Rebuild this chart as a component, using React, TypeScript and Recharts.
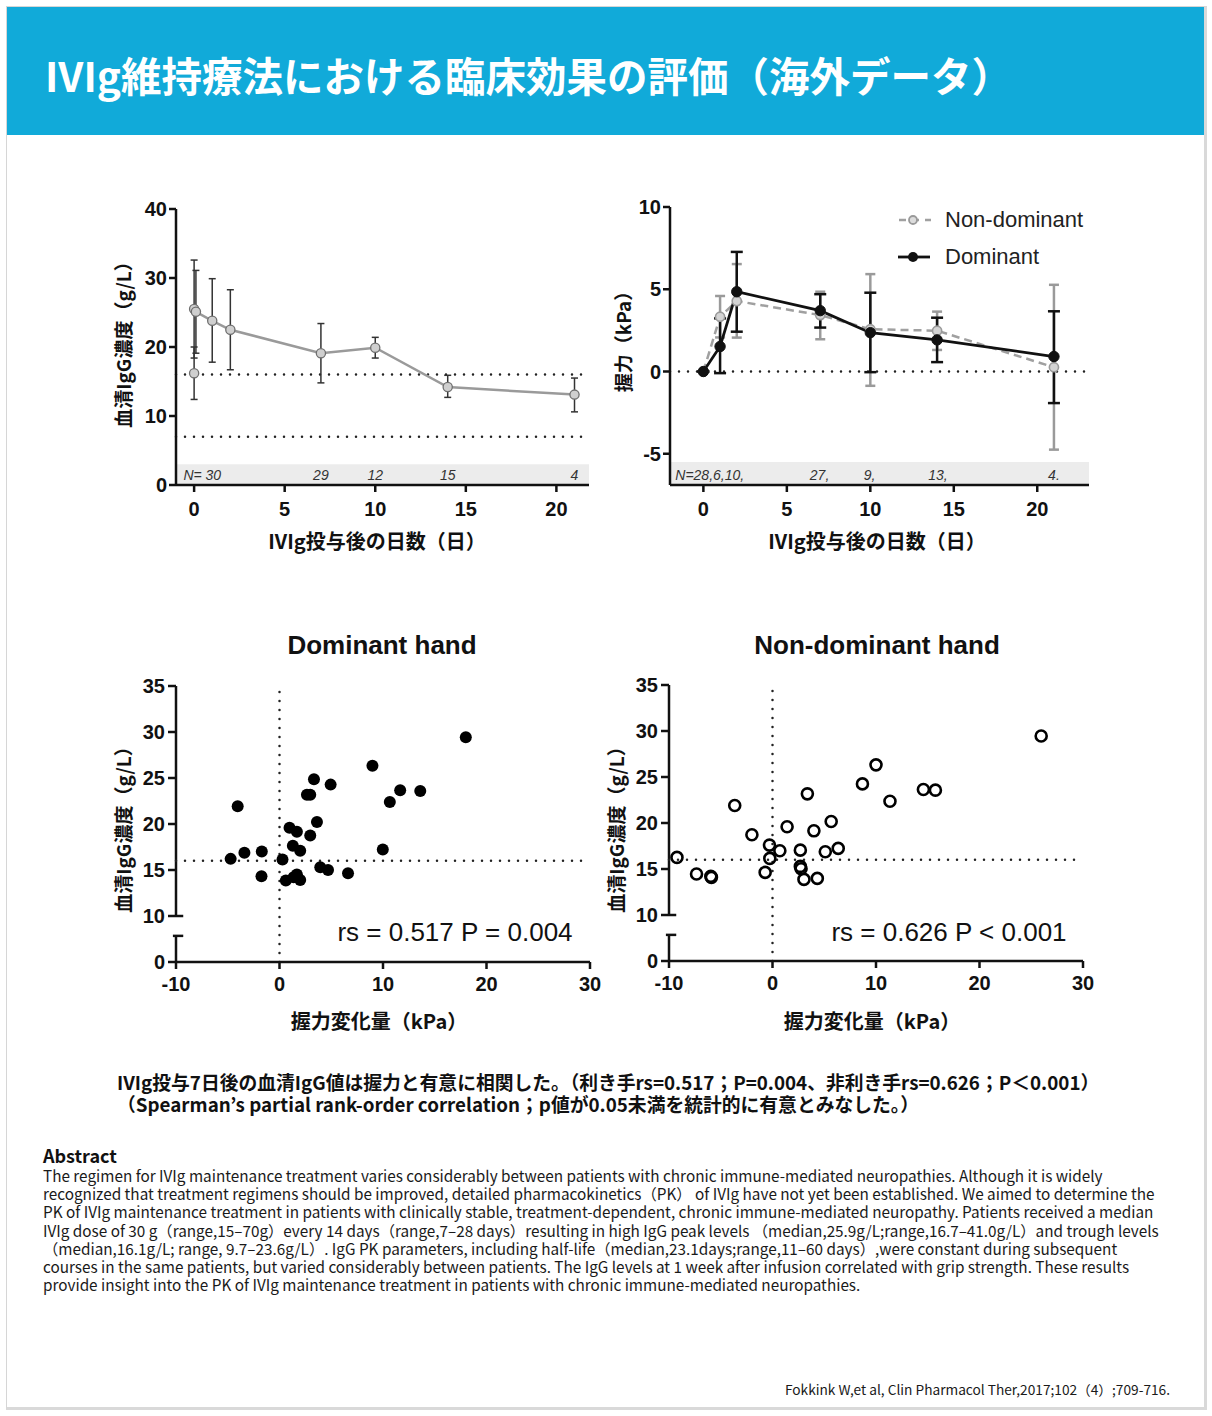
import {
  ComposedChart,
  ScatterChart,
  Line,
  Scatter,
  XAxis,
  YAxis,
  ErrorBar,
  ReferenceLine,
  ReferenceArea,
  ReferenceDot,
  Legend,
} from "recharts";

// serum IgG after infusion (top left)
const igDays = [0, 0.1, 1, 2, 7, 10, 14, 21];
const igMean = [25.5, 25.1, 23.8, 22.5, 19.1, 19.9, 14.2, 13.1];
const igLow = [18.4, 19.1, 17.8, 16.7, 14.8, 18.4, 12.7, 10.6];
const igHigh = [32.6, 31.1, 29.9, 28.3, 23.4, 21.4, 15.9, 15.5];
const preDays = [0];
const preMean = [16.2];
const preLow = [12.4];
const preHigh = [20.0];
const igNDays = [0.45, 7, 10, 14, 21];
const igNLabels = ["N= 30", "29", "12", "15", "4"];

// grip strength change (top right)
const gripDays = [0, 1, 2, 7, 10, 14, 21];
const domMean = [0, 1.52, 4.85, 3.7, 2.36, 1.92, 0.91];
const domLow = [0, -0.1, 2.42, 2.67, -0.04, 0.57, -1.92];
const domHigh = [0, 3.23, 7.27, 4.7, 4.79, 3.27, 3.66];
const nonMean = [0, 3.33, 4.28, 3.43, 2.57, 2.48, 0.26];
const nonLow = [0, 2.07, 2.06, 1.96, -0.87, 1.31, -4.75];
const nonHigh = [0, 4.59, 6.53, 4.85, 5.92, 3.64, 5.27];
const gripNDays = [0.38, 6.96, 9.96, 14.05, 21];
const gripNLabels = ["N=28,6,10,", "27,", "9,", "13,", "4."];
const legendNames = ["Non-dominant", "Dominant"];

// IgG at day 7 vs grip change
const domX = [-4.72, -3.39, -4.04, -1.71, -1.74, 0.29, 0.61, 0.97, 1.68, 1.29, 2.0, 1.36, 1.68, 2.0, 2.65, 2.97, 3.33, 2.97, 3.62, 3.94, 4.69, 4.94, 6.62, 8.98, 9.98, 10.66, 11.66, 13.6, 18.0];
const domY = [16.21, 16.87, 21.92, 17.01, 14.32, 16.14, 13.85, 19.59, 19.16, 17.63, 17.09, 14.22, 14.51, 13.92, 23.19, 23.19, 24.86, 18.76, 20.21, 15.31, 15.01, 24.28, 14.65, 26.32, 17.23, 22.39, 23.66, 23.59, 29.44];
const nonX = [-9.23, -7.34, -5.96, -5.9, -3.65, -1.99, -0.71, -0.29, -0.26, 0.71, 1.41, 2.69, 2.69, 2.76, 3.04, 3.37, 4.0, 4.33, 5.1, 5.67, 6.35, 8.69, 10.0, 11.35, 14.58, 15.74, 25.96];
const nonY = [16.26, 14.45, 14.2, 14.09, 21.9, 18.72, 14.63, 17.6, 16.15, 16.98, 19.59, 17.05, 15.28, 15.03, 13.87, 23.17, 19.15, 13.98, 16.87, 20.17, 17.24, 24.25, 26.32, 22.37, 23.64, 23.57, 29.46];

const abstractLines = [
  "The regimen for IVIg maintenance treatment varies considerably between patients with chronic immune-mediated neuropathies. Although it is widely",
  "recognized that treatment regimens should be improved, detailed pharmacokinetics（PK） of IVIg have not yet been established. We aimed to determine the",
  "PK of IVIg maintenance treatment in patients with clinically stable, treatment-dependent, chronic immune-mediated neuropathy. Patients received a median",
  "IVIg dose of 30 g（range,15–70g）every 14 days（range,7–28 days）resulting in high IgG peak levels （median,25.9g/L;range,16.7–41.0g/L）and trough levels",
  "（median,16.1g/L; range, 9.7–23.6g/L）. IgG PK parameters, including half-life（median,23.1days;range,11–60 days）,were constant during subsequent",
  "courses in the same patients, but varied considerably between patients. The IgG levels at 1 week after infusion correlated with grip strength. These results",
  "provide insight into the PK of IVIg maintenance treatment in patients with chronic immune-mediated neuropathies.",
];

const cjk = "'Noto Sans CJK JP', 'Noto Sans', sans-serif";
const arial = "'Liberation Sans', Arial, sans-serif";
const tickStyle = { fill: "#111", fontSize: 20, fontWeight: 700, fontFamily: arial };
const axisStroke = { stroke: "#111", strokeWidth: 2.5 };
const dotted = { stroke: "#222", strokeWidth: 2.5, strokeDasharray: "0 9", strokeLinecap: "round" as const };

function withErr(xs: number[], mean: number[], low: number[], high: number[]) {
  return xs.map((d, i) => ({ day: d, v: mean[i], err: [mean[i] - low[i], high[i] - mean[i]] }));
}

const nLabel = (text: string) => (props: any) => {
  const vb = props.viewBox || { x: 0, y: 0, width: 0, height: 0 };
  return (
    <text
      x={vb.x + (vb.width || 0) / 2}
      y={vb.y + (vb.height || 0) / 2}
      textAnchor="middle"
      dominantBaseline="central"
      fontSize={14}
      fontStyle="italic"
      fontFamily={arial}
      fill="#333"
    >
      {text}
    </text>
  );
};

function VLabel({ x, y, text, size = 19 }: { x: number; y: number; text: string; size?: number }) {
  return (
    <div
      style={{
        position: "absolute",
        left: x,
        top: y,
        transform: "translate(-50%, -50%) rotate(-90deg)",
        whiteSpace: "nowrap",
        fontWeight: 700,
        fontSize: size,
        lineHeight: 1,
        fontFamily: cjk,
        color: "#111",
      }}
    >
      {text}
    </div>
  );
}

function HLabel({ x, y, text, size = 19, font = cjk, weight = 700 }: { x: number; y: number; text: string; size?: number; font?: string; weight?: number }) {
  return (
    <div
      style={{
        position: "absolute",
        left: x,
        top: y,
        transform: "translate(-50%, -50%)",
        whiteSpace: "nowrap",
        fontWeight: weight,
        fontSize: size,
        lineHeight: 1,
        fontFamily: font,
        color: "#111",
      }}
    >
      {text}
    </div>
  );
}

function IgGCurve() {
  const main = withErr(igDays, igMean, igLow, igHigh);
  const pre = withErr(preDays, preMean, preLow, preHigh);
  const igDot = { r: 4.6, fill: "#cfcfcf", stroke: "#6f6f6f", strokeWidth: 1.3 };
  return (
    <div style={{ position: "absolute", left: 100, top: 190 }}>
      <ComposedChart width={510} height={330} margin={{ top: 19, right: 21, left: 0, bottom: 0 }}>
        <XAxis
          type="number"
          dataKey="day"
          domain={[-1, 21.8]}
          ticks={[0, 5, 10, 15, 20]}
          allowDataOverflow
          height={35}
          tick={tickStyle}
          tickSize={7}
          tickMargin={10}
          axisLine={axisStroke}
          tickLine={axisStroke}
        />
        <YAxis
          type="number"
          domain={[0, 40]}
          ticks={[0, 10, 20, 30, 40]}
          allowDataOverflow
          width={76}
          tick={tickStyle}
          tickSize={7}
          tickMargin={2}
          axisLine={axisStroke}
          tickLine={axisStroke}
        />
        <ReferenceArea y1={0} y2={3} fill="#ececec" fillOpacity={1} stroke="none" />
        <ReferenceLine y={16} {...dotted} />
        <ReferenceLine y={7} {...dotted} />
        {igNDays.map((d, i) => (
          <ReferenceDot key={i} x={d} y={1.4} r={0} stroke="none" fill="none" label={nLabel(igNLabels[i])} />
        ))}
        <Line data={pre} dataKey="v" stroke="none" dot={igDot} isAnimationActive={false}>
          <ErrorBar dataKey="err" direction="y" width={3.5} stroke="#333" strokeWidth={1.5} />
        </Line>
        <Line data={main} dataKey="v" stroke="#9a9a9a" strokeWidth={2.5} dot={igDot} isAnimationActive={false}>
          <ErrorBar dataKey="err" direction="y" width={3.5} stroke="#333" strokeWidth={1.5} />
        </Line>
      </ComposedChart>
    </div>
  );
}

function GripLegend() {
  return (
    <div style={{ fontFamily: arial, fontSize: 22, color: "#222" }}>
      {legendNames.map((name, i) => (
        <div key={name} style={{ display: "flex", alignItems: "center", height: 37 }}>
          <svg width={47} height={20}>
            {i === 0 ? (
              <>
                <line x1={1} y1={10} x2={33} y2={10} stroke="#a0a0a0" strokeWidth={2.5} strokeDasharray="7 6" />
                <circle cx={15} cy={10} r={4} fill="#dcdcdc" stroke="#9a9a9a" strokeWidth={1.8} />
              </>
            ) : (
              <>
                <line x1={0} y1={10} x2={32} y2={10} stroke="#111" strokeWidth={2.8} />
                <circle cx={15} cy={10} r={5} fill="#111" />
              </>
            )}
          </svg>
          <span style={{ lineHeight: 1 }}>{name}</span>
        </div>
      ))}
    </div>
  );
}

function GripCurve() {
  const dom = withErr(gripDays, domMean, domLow, domHigh);
  const non = withErr(gripDays, nonMean, nonLow, nonHigh);
  return (
    <div style={{ position: "absolute", left: 590, top: 188 }}>
      <ComposedChart width={520} height={332} margin={{ top: 19, right: 21, left: 0, bottom: 0 }}>
        <XAxis
          type="number"
          dataKey="day"
          domain={[-2, 23.1]}
          ticks={[0, 5, 10, 15, 20]}
          allowDataOverflow
          height={35}
          tick={tickStyle}
          tickSize={7}
          tickMargin={10}
          axisLine={axisStroke}
          tickLine={axisStroke}
        />
        <YAxis
          type="number"
          domain={[-6.9, 10]}
          ticks={[-5, 0, 5, 10]}
          allowDataOverflow
          width={80}
          tick={tickStyle}
          tickSize={7}
          tickMargin={2}
          axisLine={axisStroke}
          tickLine={axisStroke}
        />
        <ReferenceArea y1={-6.9} y2={-5.5} fill="#ececec" fillOpacity={1} stroke="none" />
        <ReferenceLine y={0} {...dotted} />
        {gripNDays.map((d, i) => (
          <ReferenceDot key={i} x={d} y={-6.3} r={0} stroke="none" fill="none" label={nLabel(gripNLabels[i])} />
        ))}
        <Legend
          layout="vertical"
          align="center"
          verticalAlign="middle"
          content={<GripLegend />}
          wrapperStyle={{ left: 308, top: 13, width: 210 }}
        />
        <Line
          data={non}
          dataKey="v"
          name={legendNames[0]}
          stroke="#a0a0a0"
          strokeWidth={2.5}
          strokeDasharray="8 5"
          dot={{ r: 4.6, fill: "#d4d4d4", stroke: "#9a9a9a", strokeWidth: 1.6, strokeDasharray: "" }}
          isAnimationActive={false}
        >
          <ErrorBar dataKey="err" direction="y" width={5} stroke="#9a9a9a" strokeWidth={2.5} />
        </Line>
        <Line
          data={dom}
          dataKey="v"
          name={legendNames[1]}
          stroke="#111"
          strokeWidth={2.8}
          dot={{ r: 5.2, fill: "#111", stroke: "#111", strokeWidth: 1 }}
          isAnimationActive={false}
        >
          <ErrorBar dataKey="err" direction="y" width={6} stroke="#111" strokeWidth={2.5} />
        </Line>
      </ComposedChart>
    </div>
  );
}

const filledDot = (p: any) => <circle cx={p.cx} cy={p.cy} r={6} fill="#000" />;
const hollowDot = (p: any) => <circle cx={p.cx} cy={p.cy} r={5.5} fill="none" stroke="#000" strokeWidth={2.6} />;

function Correlation({ left, top, xs, ys, shape }: { left: number; top: number; xs: number[]; ys: number[]; shape: (p: any) => any }) {
  const pts = xs.map((x, i) => ({ x, y: ys[i] }));
  return (
    <div style={{ position: "absolute", left, top }}>
      <ScatterChart width={511} height={330} margin={{ top: 19, right: 21, left: 0, bottom: 0 }}>
        <XAxis
          type="number"
          dataKey="x"
          domain={[-10, 30]}
          ticks={[-10, 0, 10, 20, 30]}
          allowDataOverflow
          height={35}
          tick={tickStyle}
          tickSize={7}
          tickMargin={8}
          axisLine={axisStroke}
          tickLine={axisStroke}
        />
        {/* broken axis: the "0" tick stands in for the lower stub below the break */}
        <YAxis
          type="number"
          dataKey="y"
          domain={[5, 35]}
          ticks={[5, 10, 15, 20, 25, 30, 35]}
          tickFormatter={(v: number) => (v === 5 ? "0" : String(v))}
          allowDataOverflow
          width={76}
          tick={tickStyle}
          tickSize={8}
          tickMargin={3}
          axisLine={false}
          tickLine={axisStroke}
        />
        <ReferenceLine segment={[{ x: -10, y: 10 }, { x: -10, y: 35 }]} stroke="#111" strokeWidth={2.5} ifOverflow="visible" />
        <ReferenceLine segment={[{ x: -10, y: 5 }, { x: -10, y: 7.84 }]} stroke="#111" strokeWidth={2.5} ifOverflow="visible" />
        <ReferenceLine segment={[{ x: -10, y: 10 }, { x: -9.3, y: 10 }]} stroke="#111" strokeWidth={2.5} ifOverflow="visible" />
        <ReferenceLine segment={[{ x: -10.3, y: 7.84 }, { x: -9.3, y: 7.84 }]} stroke="#111" strokeWidth={2.5} ifOverflow="visible" />
        <ReferenceLine y={16} {...dotted} />
        <ReferenceLine x={0} {...dotted} />
        <Scatter data={pts} shape={shape} isAnimationActive={false} />
      </ScatterChart>
    </div>
  );
}

export default function App() {
  return (
    <div
      style={{
        position: "absolute",
        left: 0,
        top: 0,
        width: 1212,
        height: 1416,
        background: "#fff",
        fontFamily: cjk,
        color: "#111",
        overflow: "hidden",
      }}
    >
      <div
        style={{
          position: "absolute",
          left: 6,
          top: 6,
          width: 1201,
          height: 1404,
          boxSizing: "border-box",
          borderTop: "1px solid #d6d6d6",
          borderLeft: "1px solid #d6d6d6",
          borderRight: "3px solid #d9d9d9",
          borderBottom: "3px solid #d9d9d9",
        }}
      />
      <div style={{ position: "absolute", left: 7, top: 7, width: 1197, height: 128, background: "#11aad9" }} />
      <div
        style={{
          position: "absolute",
          left: 45,
          top: 55,
          color: "#fff",
          fontSize: 40.5,
          fontWeight: 700,
          lineHeight: "40px",
          whiteSpace: "nowrap",
        }}
      >
        IVIg維持療法における臨床効果の評価（海外データ）
      </div>

      <IgGCurve />
      <GripCurve />
      <VLabel x={122} y={340} text="血清IgG濃度（g/L）" />
      <VLabel x={622} y={337} text="握力（kPa）" />
      <HLabel x={377} y={541} text="IVIg投与後の日数（日）" size={20} />
      <HLabel x={877} y={541} text="IVIg投与後の日数（日）" size={20} />

      <HLabel x={382} y={645} text="Dominant hand" size={26} font={arial} />
      <HLabel x={877} y={645} text="Non-dominant hand" size={26} font={arial} />
      <Correlation left={100} top={667} xs={domX} ys={domY} shape={filledDot} />
      <Correlation left={593} top={666} xs={nonX} ys={nonY} shape={hollowDot} />
      <VLabel x={122} y={825} text="血清IgG濃度（g/L）" />
      <VLabel x={615} y={825} text="血清IgG濃度（g/L）" />
      <HLabel x={455} y={932} text="rs = 0.517 P = 0.004" size={26} font={arial} weight={400} />
      <HLabel x={949} y={932} text="rs = 0.626 P < 0.001" size={26} font={arial} weight={400} />
      <HLabel x={379} y={1021} text="握力変化量（kPa）" size={20} />
      <HLabel x={872} y={1021} text="握力変化量（kPa）" size={20} />

      <div
        style={{
          position: "absolute",
          left: 117,
          top: 1071,
          fontSize: 18.8,
          lineHeight: "22px",
          fontWeight: 700,
          whiteSpace: "nowrap",
          color: "#111",
        }}
      >
        <div style={{ height: 22, overflow: "visible" }}>IVIg投与7日後の血清IgG値は握力と有意に相関した。（利き手rs=0.517；P=0.004、非利き手rs=0.626；P＜0.001）</div>
        <div style={{ height: 22, overflow: "visible" }}>（Spearman’s partial rank-order correlation；p値が0.05未満を統計的に有意とみなした。）</div>
      </div>

      <div style={{ position: "absolute", left: 43, top: 1146, fontSize: 18, lineHeight: "18px", fontWeight: 700 }}>
        Abstract
      </div>
      <div
        style={{
          position: "absolute",
          left: 43,
          top: 1166,
          fontSize: 15.3,
          lineHeight: "18.2px",
          whiteSpace: "nowrap",
          color: "#1a1a1a",
        }}
      >
        {abstractLines.map((l, i) => (
          <div key={i}>{l}</div>
        ))}
      </div>
      <div
        style={{
          position: "absolute",
          left: 0,
          width: 1170,
          top: 1380,
          textAlign: "right",
          fontSize: 13.7,
          lineHeight: "18px",
          whiteSpace: "nowrap",
          color: "#1a1a1a",
        }}
      >
        Fokkink W,et al, Clin Pharmacol Ther,2017;102（4）;709-716.
      </div>
    </div>
  );
}
